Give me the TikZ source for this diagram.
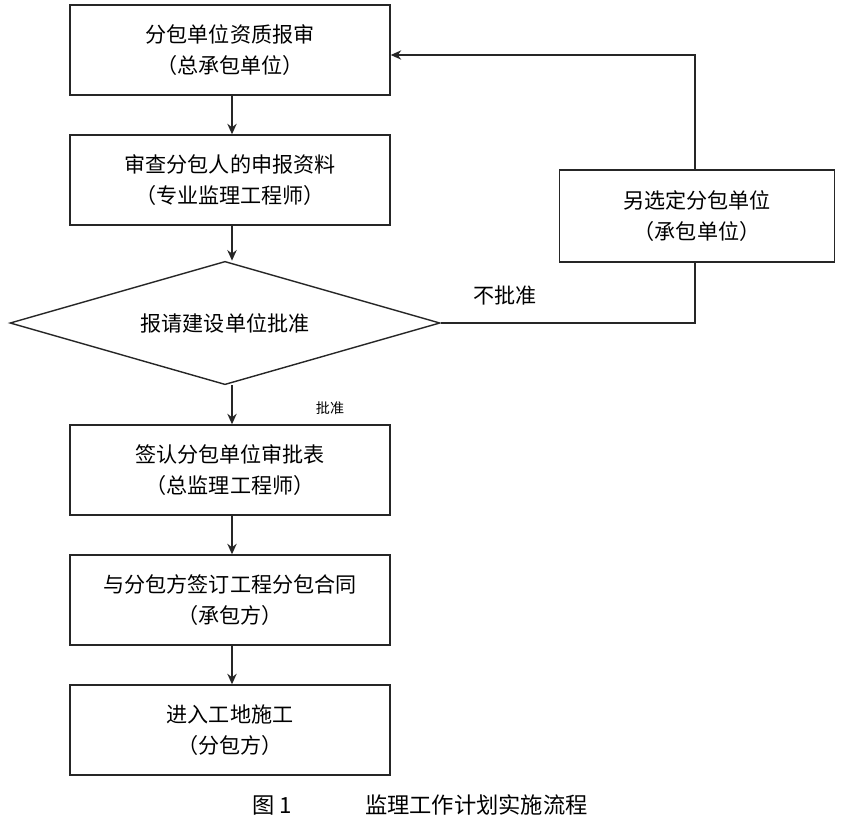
\documentclass[tikz,border=0pt]{standalone}
\usepackage{fontspec}
\setmainfont{Noto Sans CJK SC}
\usetikzlibrary{shapes.geometric,arrows.meta}
\begin{document}
\begin{tikzpicture}[x=0.03cm,y=-0.03cm,
  box/.style={draw=black!85,line width=1.2pt,minimum width=9.6cm,minimum height=2.7cm,align=center,font=\fontsize{18}{27}\selectfont},
  arr/.style={draw=black!85,line width=1.2pt,-{Stealth[length=9pt,width=8pt]}},
  ln/.style={draw=black!85,line width=1.2pt}]
\useasboundingbox (0,0) rectangle (841,827);
\node[box] (b1) at (230,50) {分包单位资质报审\\（总承包单位）};
\node[box] (b2) at (230,180) {审查分包人的申报资料\\（专业监理工程师）};
\node[draw=black!85,line width=1.2pt,diamond,aspect=3.5,minimum width=12.9cm,minimum height=3.7cm,inner sep=0pt,font=\fontsize{18}{27}\selectfont] (d) at (225,323) {报请建设单位批准};
\node[box] (b3) at (230,470) {签认分包单位审批表\\（总监理工程师）};
\node[box] (b4) at (230,600) {与分包方签订工程分包合同\\（承包方）};
\node[box] (b5) at (230,730) {进入工地施工\\（分包方）};
\node[box,minimum width=8.25cm,minimum height=2.75cm] (r) at (697,216) {另选定分包单位\\（承包单位）};
\draw[arr] (b1.south -| 232,0) -- (b2.north -| 232,0);
\draw[arr] (b2.south -| 232,0) -- (d.north -| 232,0);
\draw[arr] (d.south -| 232,0) -- (b3.north -| 232,0);
\draw[arr] (b3.south -| 232,0) -- (b4.north -| 232,0);
\draw[arr] (b4.south -| 232,0) -- (b5.north -| 232,0);
\draw[ln] (d.east) -- (695,323) -- (r.south -| 695,0);
\draw[arr] (r.north -| 695,0) -- (695,55) -- (b1.east |- 0,55);
\node[font=\fontsize{18}{20}\selectfont] (l1) at (505,295) {不批准};
\node[font=\fontsize{12}{14}\selectfont] (l2) at (330,408) {批准};
\node[font=\fontsize{19}{22}\selectfont] (cap) at (420,805) {图 1\hspace{2.2cm}监理工作计划实施流程};
\end{tikzpicture}
\end{document}
